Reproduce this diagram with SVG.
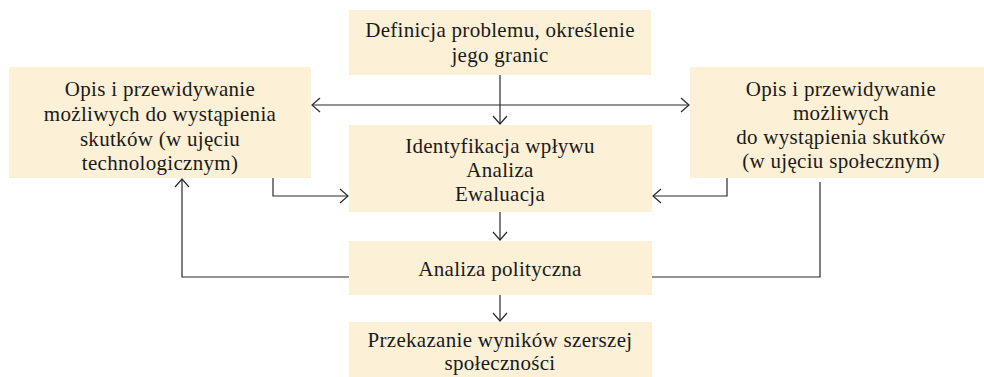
<svg xmlns="http://www.w3.org/2000/svg" width="984" height="377" viewBox="0 0 984 377">
<defs>
<style>
.box{fill:#fcf0d6;}
.t{font-family:"Liberation Serif","DejaVu Serif",serif;font-size:21px;letter-spacing:0.3px;fill:#1a1a1a;text-anchor:middle;}
.c{fill:none;stroke:#2a2a2a;stroke-width:1.2;}
</style>
<marker id="ah" viewBox="0 0 10 16" refX="9" refY="8" markerWidth="10" markerHeight="16" markerUnits="userSpaceOnUse" orient="auto">
<path d="M1,1 L9,8 L1,15" fill="none" stroke="#2a2a2a" stroke-width="1.2"/>
</marker>
</defs>
<rect width="984" height="377" fill="#ffffff"/>
<g id="connectors">
<path class="c" d="M500,75 V124" marker-end="url(#ah)"/>
<path class="c" d="M500,105 H312" marker-end="url(#ah)"/>
<path class="c" d="M500,105 H689" marker-end="url(#ah)"/>
<path class="c" d="M273,178 V196 H348" marker-end="url(#ah)"/>
<path class="c" d="M727,178 V196 H653" marker-end="url(#ah)"/>
<path class="c" d="M500,212 V240" marker-end="url(#ah)"/>
<path class="c" d="M349,277 H182 V179" marker-end="url(#ah)"/>
<path class="c" d="M652,277 H820 V182"/>
<path class="c" d="M500,295 V321" marker-end="url(#ah)"/>
</g>
<g id="n_definicja">
<rect class="box" x="349" y="10" width="302" height="65"/>
<text class="t" x="500" y="37">Definicja problemu, określenie</text>
<text class="t" x="500" y="62">jego granic</text>
</g>
<g id="n_tech">
<rect class="box" x="9" y="67" width="302" height="111"/>
<text class="t" x="160" y="96">Opis i przewidywanie</text>
<text class="t" x="160" y="121">możliwych do wystąpienia</text>
<text class="t" x="160" y="146">skutków (w ujęciu</text>
<text class="t" x="160" y="170">technologicznym)</text>
</g>
<g id="n_spol">
<rect class="box" x="690" y="67" width="294" height="111"/>
<text class="t" x="841" y="96">Opis i przewidywanie</text>
<text class="t" x="841" y="120">możliwych</text>
<text class="t" x="841" y="144">do wystąpienia skutków</text>
<text class="t" x="841" y="168">(w ujęciu społecznym)</text>
</g>
<g id="n_ident">
<rect class="box" x="349" y="125" width="303" height="87"/>
<text class="t" x="500" y="153">Identyfikacja wpływu</text>
<text class="t" x="500" y="177">Analiza</text>
<text class="t" x="500" y="201">Ewaluacja</text>
</g>
<g id="n_analiza">
<rect class="box" x="349" y="241" width="303" height="54"/>
<text class="t" x="500" y="276">Analiza polityczna</text>
</g>
<g id="n_przekazanie">
<rect class="box" x="349" y="322" width="303" height="55"/>
<text class="t" x="500" y="347">Przekazanie wyników szerszej</text>
<text class="t" x="500" y="370">społeczności</text>
</g>
</svg>
